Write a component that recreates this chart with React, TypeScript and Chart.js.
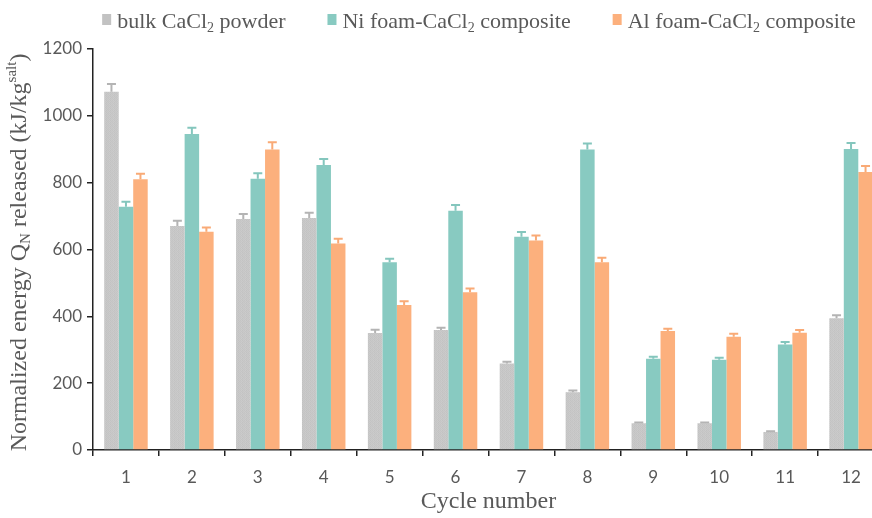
import { useEffect, useRef } from 'react';
import { Chart, registerables } from 'chart.js';

Chart.register(...registerables);

const categories = ['1', '2', '3', '4', '5', '6', '7', '8', '9', '10', '11', '12'];
const seriesLabels = ['bulk CaCl₂ powder', 'Ni foam-CaCl₂ composite', 'Al foam-CaCl₂ composite'];

const bulkValues = [1072, 670, 691, 694, 350, 359, 259, 173, 80, 80, 54, 394];
const bulkErrors = [23, 16, 15, 16, 10, 7, 5, 5, 2, 2, 2, 9];
const niValues = [728, 946, 812, 853, 562, 716, 638, 899, 273, 270, 316, 901];
const niErrors = [15, 18, 16, 18, 10, 17, 14, 18, 6, 6, 7, 18];
const alValues = [810, 653, 899, 618, 434, 472, 627, 562, 356, 339, 351, 832];
const alErrors = [17, 13, 22, 14, 11, 11, 15, 13, 7, 9, 8, 18];

const yTitleParts = [
  { t: 'Normalized energy Q', k: 'n' },
  { t: 'N', k: 'sub' },
  { t: ' released (kJ/kg', k: 'n' },
  { t: 'salt', k: 'sup' },
  { t: ')', k: 'n' },
];
const xTitle = 'Cycle number';

const SERIF = '"Liberation Serif", "Times New Roman", serif';
const SANS = 'Lato, "Open Sans", sans-serif';
const TEXT = '#595959';
const AXIS = '#222222';

const barColors = ['#c6c6c6', '#88cac1', '#fcb07d'];
const legendColors = ['#c2c2c2', '#88cac1', '#fcb07d'];
const errorColors = ['#b4b4b4', '#84c6bd', '#f9aa76'];
const errorSets = [bulkErrors, niErrors, alErrors];

type Seg = { t: string; k: string };

function segsFromLabel(s: string): Seg[] {
  const out: Seg[] = [];
  for (const ch of s) {
    const c = ch.charCodeAt(0);
    const isSub = c >= 0x2080 && c <= 0x2089;
    const k = isSub ? 'sub' : 'n';
    const t = isSub ? String.fromCharCode(c - 0x2080 + 48) : ch;
    if (out.length && out[out.length - 1].k === k) out[out.length - 1].t += t;
    else out.push({ t, k });
  }
  return out;
}

function fontFor(k: string, size: number, family: string) {
  const s = k === 'n' ? size : Math.round(size * 0.64);
  return `${s}px ${family}`;
}

function measureSegs(ctx: CanvasRenderingContext2D, segs: Seg[], size: number, family: string) {
  let w = 0;
  for (const sg of segs) {
    ctx.font = fontFor(sg.k, size, family);
    w += ctx.measureText(sg.t).width;
  }
  return w;
}

function drawSegs(ctx: CanvasRenderingContext2D, segs: Seg[], x: number, y: number, size: number, family: string) {
  let cx = x;
  ctx.textAlign = 'left';
  ctx.textBaseline = 'alphabetic';
  for (const sg of segs) {
    ctx.font = fontFor(sg.k, size, family);
    const dy = sg.k === 'sub' ? size * 0.18 : sg.k === 'sup' ? -size * 0.4 : 0;
    ctx.fillText(sg.t, cx, y + dy);
    cx += ctx.measureText(sg.t).width;
  }
  return cx;
}

function makeBulkPattern(): CanvasPattern | string {
  const c = document.createElement('canvas');
  c.width = 4;
  c.height = 4;
  const g = c.getContext('2d');
  if (!g) return '#c6c6c6';
  const shades = [
    [196, 204, 194, 202],
    [200, 198, 202, 196],
    [196, 204, 194, 202],
    [202, 196, 200, 198],
  ];
  for (let r = 0; r < 4; r++) {
    for (let q = 0; q < 4; q++) {
      const v = shades[r][q];
      g.fillStyle = `rgb(${v},${v},${v})`;
      g.fillRect(q, r, 1, 1);
    }
  }
  return g.createPattern(c, 'repeat') || '#c6c6c6';
}

const errorBarPlugin = {
  id: 'errorBars',
  afterDatasetsDraw(chart: any) {
    const ctx: CanvasRenderingContext2D = chart.ctx;
    const yScale = chart.scales.y;
    chart.data.datasets.forEach((ds: any, di: number) => {
      const meta = chart.getDatasetMeta(di);
      const errs = errorSets[di];
      meta.data.forEach((el: any, i: number) => {
        const v = ds.data[i] as number;
        const top = yScale.getPixelForValue(v + errs[i]);
        const base = yScale.getPixelForValue(v);
        ctx.save();
        ctx.strokeStyle = errorColors[di];
        ctx.lineWidth = 2;
        ctx.beginPath();
        ctx.moveTo(el.x, base);
        ctx.lineTo(el.x, top);
        ctx.moveTo(el.x - 4.5, top);
        ctx.lineTo(el.x + 4.5, top);
        ctx.stroke();
        ctx.restore();
      });
    });
  },
};

const textPlugin = {
  id: 'richText',
  afterDraw(chart: any) {
    const ctx: CanvasRenderingContext2D = chart.ctx;
    const area = chart.chartArea;
    ctx.save();
    ctx.fillStyle = TEXT;
    // legend
    const size = 22;
    const boxW = 9;
    const boxH = 11;
    const gap = 6;
    const itemGap = 42;
    const items = chart.data.datasets.map((ds: any, i: number) => {
      const segs = segsFromLabel(ds.label);
      return { segs, w: measureSegs(ctx, segs, size, SERIF), color: legendColors[i] };
    });
    const total = items.reduce((a: number, it: any) => a + boxW + gap + it.w, 0) + itemGap * (items.length - 1);
    const centerX = (area.left + area.right) / 2 - 9.5;
    let x = centerX - total / 2;
    const baseline = 28;
    items.forEach((it: any) => {
      ctx.fillStyle = it.color;
      ctx.fillRect(x, baseline - 14, boxW, boxH);
      ctx.fillStyle = TEXT;
      drawSegs(ctx, it.segs, x + boxW + gap, baseline, size, SERIF);
      x += boxW + gap + it.w + itemGap;
    });
    // y title
    const tSize = 24;
    const tw = measureSegs(ctx, yTitleParts, tSize, SERIF);
    const cy = (area.top + area.bottom) / 2 + 3;
    ctx.translate(26, cy);
    ctx.rotate(-Math.PI / 2);
    ctx.fillStyle = TEXT;
    drawSegs(ctx, yTitleParts, -tw / 2, 0, tSize, SERIF);
    ctx.restore();
  },
};

export default function App() {
  const ref = useRef<HTMLCanvasElement | null>(null);
  useEffect(() => {
    const canvas = ref.current;
    if (!canvas) return;
    const pattern = makeBulkPattern();
    const chart = new Chart(canvas, {
      type: 'bar',
      data: {
        labels: categories,
        datasets: [
          { label: seriesLabels[0], data: bulkValues, backgroundColor: pattern as any },
          { label: seriesLabels[1], data: niValues, backgroundColor: barColors[1] },
          { label: seriesLabels[2], data: alValues, backgroundColor: barColors[2] },
        ],
      },
      options: {
        responsive: false,
        animation: false,
        devicePixelRatio: 1,
        layout: { padding: { left: 30, right: 16, top: 49, bottom: 0 } },
        datasets: { bar: { categoryPercentage: 0.66, barPercentage: 1.0 } },
        plugins: { legend: { display: false }, tooltip: { enabled: false } },
        scales: {
          x: {
            offset: true,
            grid: { offset: true, drawOnChartArea: false, drawTicks: true, tickLength: 6, color: AXIS, lineWidth: 1.5 },
            border: { display: true, color: AXIS, width: 1.5 },
            ticks: { color: TEXT, font: { family: SANS, size: 17 }, padding: 11 },
            title: { display: true, text: xTitle, color: TEXT, font: { family: SERIF, size: 24 }, padding: { top: 0, bottom: 2 } },
            afterFit: (s: any) => { s.height = 68; },
          },
          y: {
            min: 0,
            max: 1200,
            ticks: {
              stepSize: 200,
              color: TEXT,
              font: { family: SANS, size: 17 },
              padding: 5,
              callback: (v: any) => String(v),
            },
            grid: { drawOnChartArea: false, drawTicks: true, tickLength: 6, color: AXIS, lineWidth: 1.5 },
            border: { display: true, color: AXIS, width: 1.5 },
            afterFit: (s: any) => { s.width = 63; },
          },
        },
      },
      plugins: [errorBarPlugin, textPlugin],
    });
    return () => chart.destroy();
  }, []);
  return (
    <div style={{ position: 'absolute', left: 0, top: 0, width: 872, height: 518, overflow: 'hidden', background: '#fff' }}>
      <canvas ref={ref} width={900} height={518} style={{ display: 'block' }} />
    </div>
  );
}
